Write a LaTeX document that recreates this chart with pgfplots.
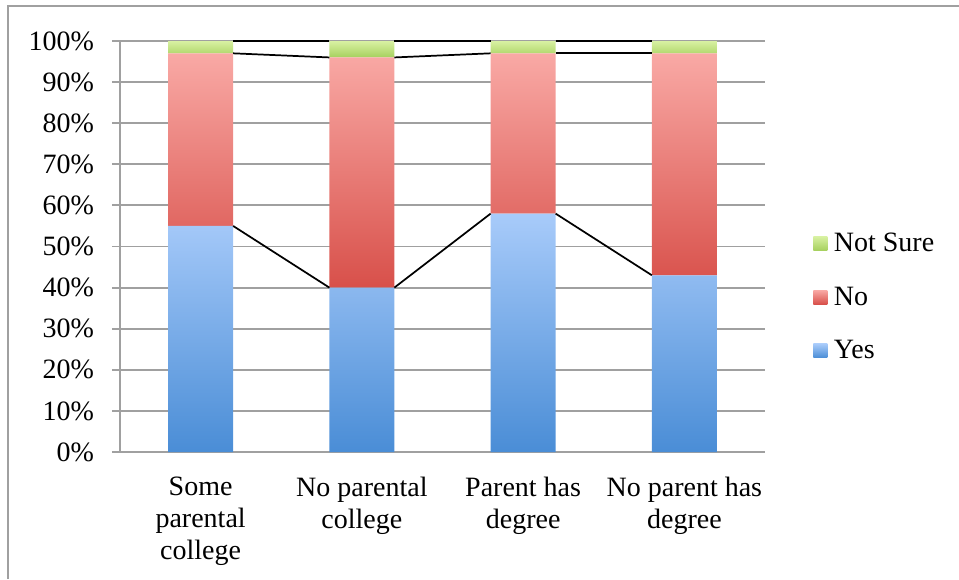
\documentclass[border=0pt]{standalone}
\usepackage{fontspec}
\setmainfont{Liberation Serif}
\usepackage{pgfplots}
\pgfplotsset{compat=1.18}
\definecolor{blueT}{HTML}{A8CBFA}
\definecolor{blueB}{HTML}{4A8DD6}
\definecolor{redT}{HTML}{F9A9A5}
\definecolor{redB}{HTML}{D8504A}
\definecolor{greenT}{HTML}{D8F1A2}
\definecolor{greenB}{HTML}{A6D05E}
\definecolor{gridgray}{HTML}{A0A0A0}
\begin{document}
\begin{tikzpicture}
\useasboundingbox (-90pt,-95.25pt) rectangle (629.25pt,339pt);
\draw[gridgray, line width=1.5pt] (-84pt,-95.25pt) -- (-84pt,334.5pt) -- (629.25pt,334.5pt);
\begin{axis}[
  at={(0pt,0pt)}, anchor=south west,
  scale only axis, width=483.75pt, height=308.25pt,
  xmin=-0.5, xmax=3.5, ymin=0, ymax=100,
  ybar stacked, bar width=48.75pt,
  axis x line*=bottom, axis y line*=left,
  axis line style={gridgray, line width=1.4pt},
  ymajorgrids, grid style={gridgray, line width=1.4pt},
  ytick={0,10,...,100},
  yticklabels={0\%,10\%,20\%,30\%,40\%,50\%,60\%,70\%,80\%,90\%,100\%},
  xtick={0,1,2,3},
  xticklabels={{Some\\parental\\college},{No parental\\college},{Parent has\\degree},{No parent has\\degree}},
  xticklabel style={align=center, yshift=-9pt},
  x tick style={draw=none},
  extra x ticks={-0.5,0.5,1.5,2.5,3.5},
  extra x tick labels={},
  extra x tick style={major tick length=6pt, tick style={gridgray, line width=1.4pt, draw=gridgray}, grid=none},
  y tick style={gridgray, line width=1.4pt},
  tick align=outside, major tick length=6pt,
  tick label style={font=\fontsize{21}{24}\selectfont, text=black},
  yticklabel style={xshift=-10pt},
  legend style={at={(1.0744,0.377)}, anchor=west, draw=none, fill=none,
    font=\fontsize{21}{24}\selectfont, row sep=21pt, inner sep=0pt,
    legend cell align=left, nodes={inner xsep=5pt}},
  reverse legend,
]
\addplot[draw=none, top color=blueT, bottom color=blueB,
  legend image code/.code={\shade[top color=blueT,bottom color=blueB] (0pt,-5.25pt) rectangle (10.5pt,5.25pt);}]
  coordinates {(0,55) (1,40) (2,58) (3,43)};
\addlegendentry{Yes}
\addplot[draw=none, top color=redT, bottom color=redB,
  legend image code/.code={\shade[top color=redT,bottom color=redB] (0pt,-5.25pt) rectangle (10.5pt,5.25pt);}]
  coordinates {(0,42) (1,56) (2,39) (3,54)};
\addlegendentry{No}
\addplot[draw=none, top color=greenT, bottom color=greenB,
  legend image code/.code={\shade[top color=greenT,bottom color=greenB] (0pt,-5.25pt) rectangle (10.5pt,5.25pt);}]
  coordinates {(0,3) (1,4) (2,3) (3,3)};
\addlegendentry{Not Sure}
\end{axis}
\begin{axis}[
  at={(0pt,0pt)}, anchor=south west,
  scale only axis, width=483.75pt, height=308.25pt,
  xmin=-0.5, xmax=3.5, ymin=0, ymax=100,
  hide axis,
]
\addplot[black, line width=1.3pt] coordinates {(0.2016,55) (0.7984,40)};
\addplot[black, line width=1.3pt] coordinates {(1.2016,40) (1.7984,58)};
\addplot[black, line width=1.3pt] coordinates {(2.2016,58) (2.7984,43)};
\addplot[black, line width=1.3pt] coordinates {(0.2016,97) (0.7984,96)};
\addplot[black, line width=1.3pt] coordinates {(1.2016,96) (1.7984,97)};
\addplot[black, line width=1.3pt] coordinates {(2.2016,97) (2.7984,97)};
\addplot[black, line width=1.3pt] coordinates {(0.2016,100) (0.7984,100)};
\addplot[black, line width=1.3pt] coordinates {(1.2016,100) (1.7984,100)};
\addplot[black, line width=1.3pt] coordinates {(2.2016,100) (2.7984,100)};
\end{axis}
\end{tikzpicture}
\end{document}
